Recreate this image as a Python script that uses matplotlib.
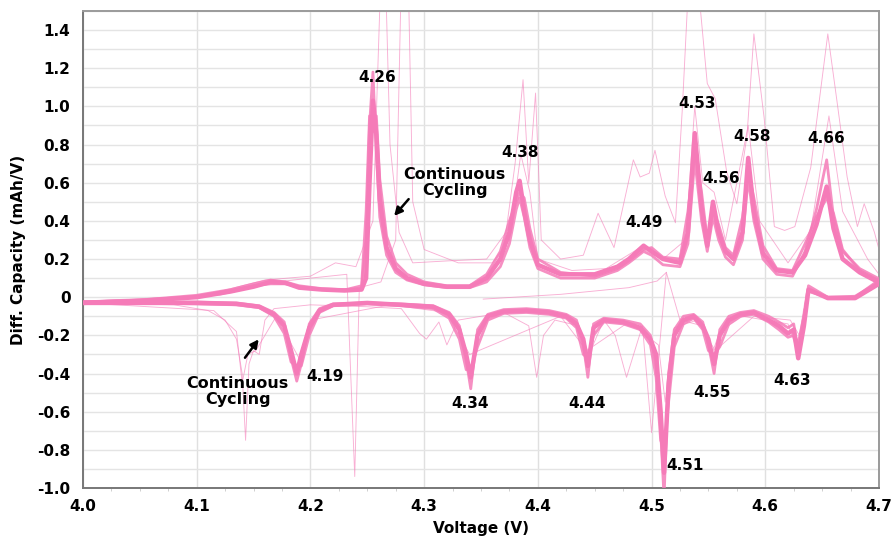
import numpy as np
import matplotlib
matplotlib.use("Agg")
import matplotlib.pyplot as plt
from matplotlib.ticker import MultipleLocator, FuncFormatter

plt.rcParams.update({
    "font.family": ["DejaVu Sans"],
    "font.weight": "bold",
})

# ---------------------------------------------------------------------------
# data (voltage in V, dQ/dV in mAh/V)
# ---------------------------------------------------------------------------

# main bundle, charge (upper branch)
charge_v = [4.000, 4.050, 4.100, 4.130, 4.150, 4.165, 4.178, 4.190, 4.210, 4.230,
            4.245, 4.249, 4.252, 4.255, 4.258, 4.261, 4.267, 4.275, 4.285, 4.300,
            4.320, 4.340, 4.355, 4.367, 4.375, 4.381, 4.384, 4.388, 4.393, 4.400,
            4.420, 4.450, 4.470, 4.480, 4.493, 4.500, 4.510, 4.525, 4.532, 4.538,
            4.544, 4.549, 4.554, 4.559, 4.565, 4.572, 4.580, 4.585, 4.590, 4.598,
            4.610, 4.624, 4.635, 4.645, 4.654, 4.660, 4.668, 4.683, 4.699]
charge_dq = [-0.03, -0.02, 0.00, 0.03, 0.055, 0.08, 0.075, 0.05, 0.04, 0.035,
             0.04, 0.10, 0.60, 1.03, 0.85, 0.51, 0.26, 0.15, 0.10, 0.07,
             0.055, 0.055, 0.10, 0.20, 0.34, 0.55, 0.61, 0.45, 0.30, 0.17,
             0.12, 0.12, 0.16, 0.20, 0.27, 0.24, 0.20, 0.18, 0.34, 0.86,
             0.47, 0.27, 0.50, 0.34, 0.24, 0.20, 0.34, 0.73, 0.45, 0.23,
             0.14, 0.13, 0.22, 0.38, 0.58, 0.36, 0.20, 0.13, 0.08]
charge2_dq = [-0.025, -0.015, 0.01, 0.04, 0.07, 0.09, 0.08, 0.06, 0.045, 0.04,
              0.045, 0.30, 0.90, 1.18, 0.75, 0.42, 0.22, 0.13, 0.09, 0.065,
              0.05, 0.05, 0.08, 0.16, 0.28, 0.46, 0.52, 0.42, 0.26, 0.15,
              0.10, 0.10, 0.14, 0.18, 0.24, 0.22, 0.17, 0.16, 0.28, 0.72,
              0.40, 0.24, 0.42, 0.30, 0.21, 0.17, 0.30, 0.62, 0.40, 0.20,
              0.12, 0.11, 0.24, 0.46, 0.72, 0.42, 0.24, 0.15, 0.10]
charge3_dq = [-0.03, -0.02, 0.005, 0.035, 0.06, 0.07, 0.07, 0.055, 0.04, 0.038,
              0.06, 0.45, 0.95, 0.90, 0.95, 0.62, 0.32, 0.18, 0.12, 0.08,
              0.06, 0.06, 0.12, 0.24, 0.40, 0.50, 0.55, 0.52, 0.36, 0.20,
              0.13, 0.11, 0.15, 0.19, 0.25, 0.26, 0.21, 0.20, 0.45, 0.78,
              0.55, 0.30, 0.46, 0.38, 0.26, 0.22, 0.42, 0.66, 0.52, 0.27,
              0.15, 0.14, 0.28, 0.42, 0.52, 0.44, 0.25, 0.14, 0.09]

# main bundle, discharge (lower branch)
discharge_v = [4.700, 4.679, 4.655, 4.638, 4.634, 4.629, 4.625, 4.620, 4.612, 4.603,
               4.590, 4.578, 4.568, 4.560, 4.555, 4.550, 4.545, 4.537, 4.528, 4.520,
               4.515, 4.511, 4.508, 4.504, 4.499, 4.490, 4.475, 4.458, 4.449, 4.444,
               4.440, 4.434, 4.425, 4.410, 4.390, 4.370, 4.356, 4.347, 4.341, 4.337,
               4.331, 4.322, 4.308, 4.280, 4.250, 4.220, 4.208, 4.199, 4.192, 4.188,
               4.183, 4.177, 4.168, 4.155, 4.135, 4.100, 4.050, 4.000]
discharge_dq = [0.07, -0.005, -0.005, 0.04, -0.15, -0.32, -0.17, -0.19, -0.15, -0.12,
                -0.08, -0.09, -0.12, -0.20, -0.35, -0.22, -0.15, -0.10, -0.12, -0.20,
                -0.45, -0.92, -0.60, -0.30, -0.22, -0.16, -0.13, -0.12, -0.16, -0.36,
                -0.22, -0.14, -0.10, -0.08, -0.07, -0.075, -0.10, -0.20, -0.42, -0.30,
                -0.17, -0.09, -0.05, -0.04, -0.03, -0.04, -0.07, -0.16, -0.30, -0.40,
                -0.28, -0.15, -0.09, -0.05, -0.035, -0.03, -0.03, -0.03]
discharge2_dq = [0.09, 0.0, 0.0, 0.06, -0.12, -0.28, -0.14, -0.16, -0.13, -0.10,
                 -0.07, -0.08, -0.10, -0.17, -0.40, -0.25, -0.13, -0.09, -0.10, -0.17,
                 -0.40, -1.05, -0.70, -0.35, -0.20, -0.14, -0.12, -0.11, -0.14, -0.42,
                 -0.25, -0.12, -0.09, -0.07, -0.06, -0.065, -0.09, -0.17, -0.48, -0.33,
                 -0.15, -0.08, -0.045, -0.035, -0.03, -0.035, -0.06, -0.14, -0.35, -0.44,
                 -0.32, -0.13, -0.08, -0.045, -0.03, -0.025, -0.025, -0.025]
discharge3_dq = [0.08, 0.005, 0.0, 0.03, -0.10, -0.24, -0.20, -0.21, -0.17, -0.13,
                 -0.09, -0.10, -0.14, -0.26, -0.30, -0.28, -0.17, -0.11, -0.14, -0.26,
                 -0.55, -0.80, -0.75, -0.42, -0.25, -0.17, -0.14, -0.13, -0.20, -0.32,
                 -0.30, -0.16, -0.11, -0.09, -0.08, -0.085, -0.12, -0.26, -0.38, -0.38,
                 -0.22, -0.11, -0.06, -0.045, -0.035, -0.045, -0.08, -0.20, -0.36, -0.36,
                 -0.34, -0.19, -0.10, -0.055, -0.04, -0.035, -0.03, -0.03]

# early cycles (thin outliers)
early_a_v = [4.000, 4.100, 4.160, 4.200, 4.222, 4.240, 4.255, 4.262, 4.266, 4.270,
             4.278, 4.290, 4.320, 4.355, 4.372, 4.380, 4.387, 4.392, 4.398, 4.403,
             4.420, 4.440, 4.453, 4.467, 4.484, 4.490, 4.498, 4.503, 4.512, 4.521,
             4.527, 4.533, 4.540, 4.549, 4.556, 4.566, 4.575, 4.584, 4.590, 4.599,
             4.608, 4.617, 4.626, 4.640, 4.655, 4.663, 4.672, 4.681, 4.687, 4.696, 4.700]
early_a_dq = [-0.02, 0.00, 0.09, 0.11, 0.18, 0.16, 0.40, 1.70, 1.70, 0.80,
              0.34, 0.18, 0.19, 0.20, 0.34, 0.70, 1.14, 0.60, 1.07, 0.30,
              0.20, 0.22, 0.44, 0.26, 0.72, 0.63, 0.65, 0.77, 0.53, 0.39,
              0.98, 1.70, 1.70, 1.12, 1.04, 0.66, 0.49, 0.85, 1.38, 0.94,
              0.37, 0.35, 0.37, 0.68, 1.38, 1.03, 0.63, 0.37, 0.49, 0.34, 0.25]

early_b_v = [4.000, 4.120, 4.170, 4.200, 4.232, 4.239, 4.243, 4.262, 4.275, 4.280,
             4.286, 4.290, 4.300, 4.330, 4.360, 4.375, 4.385, 4.393, 4.400, 4.430,
             4.460, 4.490, 4.510, 4.530, 4.538, 4.545, 4.555, 4.565, 4.585, 4.595,
             4.620, 4.640, 4.656, 4.668, 4.690, 4.700]
early_b_dq = [-0.02, 0.01, 0.08, 0.10, 0.12, -0.94, 0.05, 0.08, 0.30, 1.70,
              1.70, 0.50, 0.25, 0.18, 0.18, 0.30, 0.75, 0.55, 0.20, 0.14,
              0.15, 0.26, 0.20, 0.30, 1.00, 0.60, 0.55, 0.30, 0.90, 0.40,
              0.18, 0.35, 0.95, 0.45, 0.20, 0.12]

ramp_v = [4.352, 4.420, 4.480, 4.505, 4.513]
ramp_dq = [-0.01, 0.015, 0.05, 0.085, 0.13]

early_dis_a_v = [4.636, 4.628, 4.620, 4.600, 4.580, 4.560, 4.553, 4.545, 4.525, 4.513,
                 4.500, 4.492, 4.478, 4.468, 4.458, 4.445, 4.436, 4.415, 4.405, 4.399,
                 4.392, 4.370, 4.330, 4.320, 4.313, 4.302, 4.296, 4.280, 4.250, 4.200,
                 4.168, 4.160, 4.155, 4.150, 4.146, 4.143, 4.140, 4.135, 4.125, 4.110,
                 4.080, 4.000]
early_dis_a_dq = [0.00, -0.28, -0.14, -0.12, -0.10, -0.18, -0.30, -0.15, -0.12, 0.13,
                  -0.71, -0.15, -0.42, -0.20, -0.12, -0.30, -0.15, -0.12, -0.20, -0.42,
                  -0.15, -0.08, -0.12, -0.25, -0.13, -0.22, -0.19, -0.06, -0.05, -0.04,
                  -0.06, -0.12, -0.30, -0.28, -0.35, -0.75, -0.40, -0.22, -0.12, -0.07,
                  -0.04, -0.03]

early_dis_b_v = [4.636, 4.630, 4.622, 4.590, 4.556, 4.540, 4.520, 4.512, 4.506, 4.480,
                 4.443, 4.420, 4.340, 4.320, 4.270, 4.200, 4.190, 4.170, 4.160, 4.152,
                 4.145, 4.140, 4.135, 4.115, 4.000]
early_dis_b_dq = [0.02, -0.20, -0.12, -0.10, -0.28, -0.12, -0.16, -0.55, -0.25, -0.13,
                  -0.28, -0.10, -0.30, -0.08, -0.04, -0.12, -0.32, -0.10, -0.20, -0.28,
                  -0.30, -0.45, -0.18, -0.07, -0.03]

# peak labels
peak_labels = ["4.26", "4.38", "4.49", "4.53", "4.56", "4.58", "4.66",
               "4.19", "4.34", "4.44", "4.51", "4.55", "4.63"]
peak_label_x = [4.259, 4.384, 4.493, 4.540, 4.561, 4.588, 4.654,
                4.213, 4.340, 4.443, 4.529, 4.553, 4.624]
peak_label_y = [1.154, 0.756, 0.394, 1.013, 0.620, 0.840, 0.834,
                -0.418, -0.555, -0.555, -0.880, -0.502, -0.439]

pink = "#F57BB8"

# ---------------------------------------------------------------------------
fig = plt.figure(figsize=(8.95, 5.45), dpi=100)
ax = fig.add_axes([0.0927, 0.1046, 0.8894, 0.8752])

# thin outlier cycles
thin = dict(color=pink, lw=0.65, alpha=0.6, zorder=2)
ax.plot(early_a_v, early_a_dq, **thin)
ax.plot(early_b_v, early_b_dq, **thin)
ax.plot(ramp_v, ramp_dq, **thin)
ax.plot(early_dis_a_v, early_dis_a_dq, **thin)
ax.plot(early_dis_b_v, early_dis_b_dq, **thin)

# main bundle (many overlapping cycles)
bundle = dict(color=pink, solid_joinstyle="round", solid_capstyle="round", zorder=3)
for dq in (charge2_dq, charge3_dq):
    ax.plot(charge_v, dq, lw=2.0, alpha=0.85, **bundle)
ax.plot(charge_v, charge_dq, lw=3.2, **bundle)
for dq in (discharge2_dq, discharge3_dq):
    ax.plot(discharge_v, dq, lw=2.0, alpha=0.85, **bundle)
ax.plot(discharge_v, discharge_dq, lw=3.2, **bundle)

ax.set_xlim(4.0, 4.7)
ax.set_ylim(-1.0, 1.5)

ax.xaxis.set_major_locator(MultipleLocator(0.1))
ax.xaxis.set_minor_locator(MultipleLocator(0.025))
ax.yaxis.set_major_locator(MultipleLocator(0.2))
ax.yaxis.set_minor_locator(MultipleLocator(0.1))
ax.xaxis.set_major_formatter(FuncFormatter(lambda v, p: f"{v:.1f}"))
ax.yaxis.set_major_formatter(FuncFormatter(lambda v, p: "0" if abs(v) < 1e-9 else f"{v:.1f}"))

ax.grid(which="major", axis="x", color="#e0e0e0", lw=1.0, zorder=0)
ax.grid(which="both", axis="y", color="#e4e4e4", lw=1.0, zorder=0)
ax.set_axisbelow(True)

ax.tick_params(axis="both", which="major", length=0, labelsize=11)
ax.tick_params(axis="x", which="major", pad=8)
ax.tick_params(axis="y", which="major", pad=9)
ax.tick_params(axis="x", which="minor", length=2.5, color="#c8c8c8", direction="out")
ax.tick_params(axis="y", which="minor", length=0)

for side, s in ax.spines.items():
    s.set_linewidth(1.4)
    s.set_color("#777777" if side in ("left", "bottom") else "#9a9a9a")

ax.set_xlabel("Voltage (V)", fontsize=11, fontweight="bold", labelpad=5)
ax.set_ylabel("Diff. Capacity (mAh/V)", fontsize=11, fontweight="bold", labelpad=8)

for lab, x, y in zip(peak_labels, peak_label_x, peak_label_y):
    ax.text(x, y, lab, ha="center", va="center", fontsize=11, fontweight="bold", zorder=5)

ax.text(4.327, 0.60, "Continuous\nCycling", ha="center", va="center",
        fontsize=11.5, fontweight="bold", linespacing=1.1, zorder=5)
ax.annotate("", xy=(4.272, 0.415), xytext=(4.288, 0.525),
            arrowprops=dict(arrowstyle="-|>", color="black", lw=1.8, mutation_scale=12), zorder=5)

ax.text(4.136, -0.494, "Continuous\nCycling", ha="center", va="center",
        fontsize=11.5, fontweight="bold", linespacing=1.1, zorder=5)
ax.annotate("", xy=(4.156, -0.209), xytext=(4.141, -0.329),
            arrowprops=dict(arrowstyle="-|>", color="black", lw=1.8, mutation_scale=12), zorder=5)

fig.savefig("out.png", dpi=100)
